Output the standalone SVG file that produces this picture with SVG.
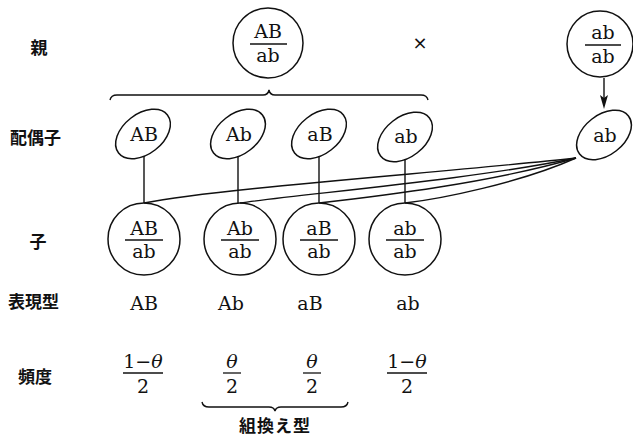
<svg xmlns="http://www.w3.org/2000/svg" width="633" height="439" viewBox="0 0 633 439">
<style>
.sh{fill:none;stroke:#111;stroke-width:1.5}
.ln{fill:none;stroke:#111;stroke-width:1.4}
.fl{stroke:#111;stroke-width:1.3}
.t{font-family:"DejaVu Serif","Liberation Serif",serif;font-size:19px;fill:#111;text-anchor:middle}
.th{font-style:italic}
.j{font-family:"Noto Sans CJK JP","Noto Sans CJK SC",sans-serif;font-size:17px;font-weight:700;fill:#111}
.x{font-family:"DejaVu Sans","Liberation Sans",sans-serif;font-size:18px;fill:#111;text-anchor:middle}
</style>

<!-- row labels -->
<g id="labels">
<text class="j" x="39" y="54" text-anchor="middle">親</text>
<text class="j" x="10" y="144">配偶子</text>
<text class="j" x="38" y="248" text-anchor="middle">子</text>
<text class="j" x="8" y="308">表現型</text>
<text class="j" x="35" y="383" text-anchor="middle">頻度</text>
</g>

<!-- parents -->
<g id="parent1">
<circle class="sh" cx="268" cy="43" r="35"/>
<text class="t" x="268" y="38">AB</text>
<line class="fl" x1="250" y1="44" x2="287" y2="44"/>
<text class="t" x="268" y="62">ab</text>
</g>
<g id="cross"><text class="x" x="420" y="49">×</text></g>
<g id="parent2">
<circle class="sh" cx="600" cy="44" r="33"/>
<text class="t" x="603" y="39">ab</text>
<line class="fl" x1="585" y1="45" x2="621" y2="45"/>
<text class="t" x="603" y="63">ab</text>
</g>

<!-- gametes -->
<g id="gAB"><ellipse class="sh" cx="143" cy="134" rx="31" ry="20" transform="rotate(-38 143 134)"/><text class="t" x="144" y="141">AB</text></g>
<g id="gAb"><ellipse class="sh" cx="238" cy="134" rx="31" ry="20" transform="rotate(-38 238 134)"/><text class="t" x="239" y="141">Ab</text></g>
<g id="gaB"><ellipse class="sh" cx="319" cy="134" rx="31" ry="20" transform="rotate(-38 319 134)"/><text class="t" x="320" y="141">aB</text></g>
<g id="gab"><ellipse class="sh" cx="405" cy="137" rx="31" ry="20" transform="rotate(-38 405 137)"/><text class="t" x="406" y="143">ab</text></g>
<g id="gab2"><ellipse class="sh" cx="604" cy="135" rx="31" ry="20" transform="rotate(-38 604 135)"/><text class="t" x="605" y="142">ab</text></g>

<!-- children -->
<g id="cAB"><circle class="sh" cx="144" cy="239" r="36"/><text class="t" x="144" y="235">AB</text><line class="fl" x1="125" y1="240" x2="163" y2="240"/><text class="t" x="144" y="258">ab</text></g>
<g id="cAb"><circle class="sh" cx="240" cy="239" r="36"/><text class="t" x="240" y="235">Ab</text><line class="fl" x1="221" y1="240" x2="259" y2="240"/><text class="t" x="240" y="258">ab</text></g>
<g id="caB"><circle class="sh" cx="319" cy="239" r="36"/><text class="t" x="319" y="235">aB</text><line class="fl" x1="300" y1="240" x2="338" y2="240"/><text class="t" x="319" y="258">ab</text></g>
<g id="cab"><circle class="sh" cx="405" cy="239" r="36"/><text class="t" x="405" y="235">ab</text><line class="fl" x1="386" y1="240" x2="424" y2="240"/><text class="t" x="405" y="258">ab</text></g>

<!-- phenotypes -->
<g id="pheno">
<text class="t" x="144" y="310">AB</text>
<text class="t" x="231" y="310">Ab</text>
<text class="t" x="310" y="310">aB</text>
<text class="t" x="408" y="310">ab</text>
</g>

<!-- frequencies -->
<g id="freq">
<text class="t" x="143" y="368">1−<tspan class="th">θ</tspan></text>
<line class="fl" x1="123" y1="373" x2="163" y2="373"/>
<text class="t" x="143" y="393">2</text>
<text class="t th" x="232" y="368">θ</text>
<line class="fl" x1="223" y1="373" x2="241" y2="373"/>
<text class="t" x="232" y="393">2</text>
<text class="t th" x="312" y="368">θ</text>
<line class="fl" x1="303" y1="373" x2="321" y2="373"/>
<text class="t" x="312" y="393">2</text>
<text class="t" x="407" y="368">1−<tspan class="th">θ</tspan></text>
<line class="fl" x1="387" y1="373" x2="427" y2="373"/>
<text class="t" x="407" y="393">2</text>
</g>

<!-- braces -->
<g id="braceTop"><path class="ln" d="M110,100 Q111,95 117,95 L263,95 Q268,95 269,90 Q270,95 275,95 L421,95 Q427,95 428,100"/></g>
<g id="braceBottom">
<path class="ln" d="M202,402 Q203,407 209,407 L269,407 Q274,407 275,411 Q276,407 281,407 L341,407 Q347,407 348,402"/>
<text class="j" x="275" y="432" text-anchor="middle" letter-spacing="1">組換え型</text>
</g>

<!-- connectors -->
<g id="connectors">
<line class="ln" x1="604" y1="78" x2="604" y2="98"/>
<path d="M600,95 L604,109 L608,95 L604,98 Z" fill="#111"/>
<line class="ln" x1="144" y1="156" x2="144" y2="203"/>
<line class="ln" x1="238" y1="156" x2="238" y2="203"/>
<line class="ln" x1="319" y1="156" x2="319" y2="203"/>
<line class="ln" x1="405" y1="159" x2="405" y2="203"/>
<path class="ln" d="M144,203 C220,188 450,172 576,158"/>
<path class="ln" d="M240,203 C300,194 470,180 576,158"/>
<path class="ln" d="M319,203 C380,196 490,183 576,158"/>
<path class="ln" d="M405,203 C440,199 520,183 576,158"/>
</g>
</svg>
